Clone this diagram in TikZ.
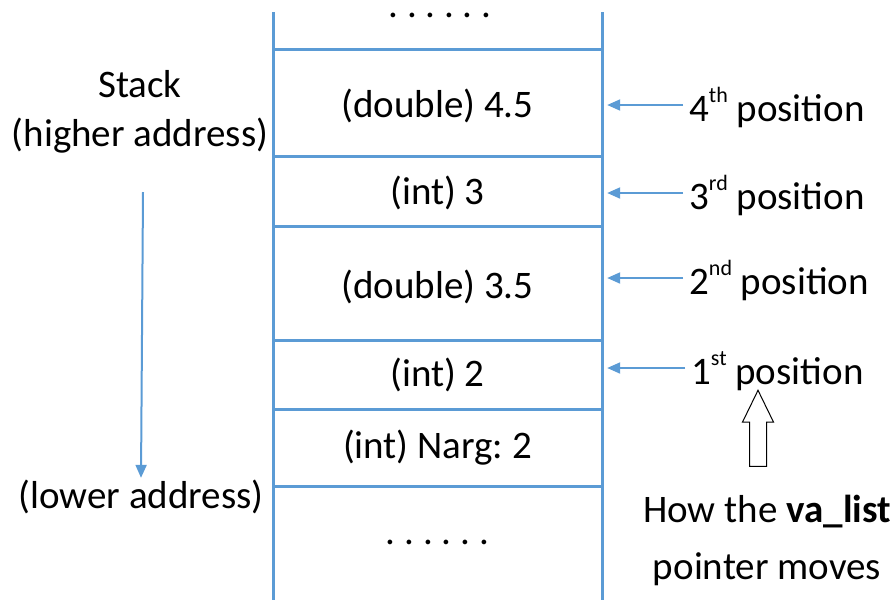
\documentclass[tikz,border=0pt]{standalone}
\usepackage{fontspec}
\setmainfont{Carlito}
\usetikzlibrary{arrows.meta,shapes.arrows}
\definecolor{stk}{HTML}{5B9BD5}
\frenchspacing
\tikzset{
  grid/.style={stk,line width=3pt},
  ptr/.style={stk,line width=2pt,-{Triangle[length=13pt,width=11pt]}},
  cell/.style={minimum width=329pt,inner sep=2pt,font=\fontsize{39}{47}\selectfont},
  lbl/.style={inner sep=2pt,align=center,font=\fontsize{39}{49}\selectfont},
  posn/.style={inner sep=2pt,anchor=base west,font=\fontsize{39}{47}\selectfont}
}
\newcommand{\sps}[1]{\raisebox{19pt}{\fontsize{22}{22}\selectfont #1}}

\begin{document}
\begin{tikzpicture}[x=1pt,y=-1pt]
\useasboundingbox (0,0) rectangle (896,603);
% the stack frame
\draw[grid] (273,12) -- (273,600);
\draw[grid] (602,12) -- (602,600);
\foreach \y in {49,156,226,340,409,486}
  \draw[grid] (273,\y) -- (602,\y);
\node[cell,anchor=base] (dtop) at (440,17) {. . . . . .};
\node[cell] (c5) at (437.5,106) {(double) 4.5};
\node[cell] (c4) at (437.5,193) {(int) 3};
\node[cell] (c3) at (437.5,287) {(double) 3.5};
\node[cell] (c2) at (437.5,375) {(int) 2};
\node[cell] (c1) at (437.5,448) {(int) Narg: 2};
\node[cell,anchor=base] (dbot) at (437.5,544) {. . . . . .};
% addresses
\node[lbl] (hi) at (140,112) {Stack\\(higher address)};
\node[lbl] (lo) at (141,497) {(lower address)};
\coordinate (hitop) at (143,192);
\draw[ptr] (hitop) -- (lo.north);
% positions of the va_list
\node[posn] (p4) at (687,121) {4\sps{th} position};
\node[posn] (p3) at (687,209) {3\sps{rd} position};
\node[posn] (p2) at (687,294) {2\sps{nd} position};
\node[posn] (p1) at (689,384) {1\sps{st} position};
\foreach \p/\c in {p4/c5,p3/c4,p2/c3,p1/c2}
  \draw[ptr,shorten >=5pt,shorten <=4pt] ([yshift=16pt]\p.base west) -- ([yshift=16pt]\p.base west -| \c.east);
\node[draw=black,fill=white,line width=1pt,single arrow,shape border rotate=90,
  minimum height=76pt,inner sep=8pt,single arrow head extend=7pt,
  single arrow tip angle=52] (mv) at (758,437) {};
\node[lbl,font=\fontsize{39}{57}\selectfont] (how) at (767,540) {How the \textbf{va\_list}\\pointer moves};
\end{tikzpicture}
\end{document}
